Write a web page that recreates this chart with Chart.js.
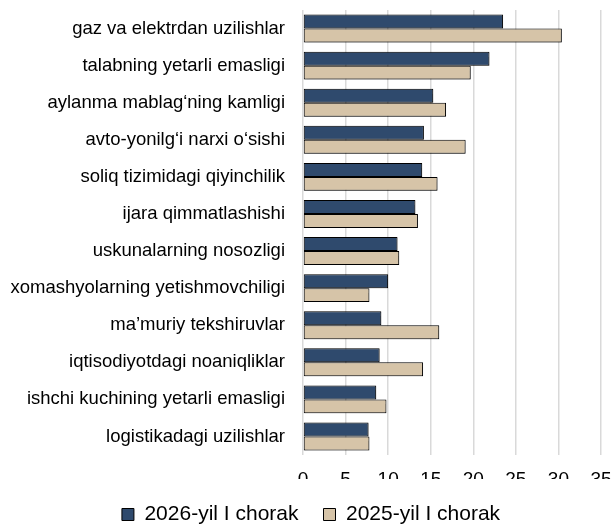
<!DOCTYPE html>
<html>
<head>
<meta charset="utf-8">
<script src="https://cdn.jsdelivr.net/npm/chart.js@4/dist/chart.umd.min.js"></script>
<style>
  html, body { margin: 0; padding: 0; background: #fff; }
  #wrap { width: 612px; height: 525px; }
</style>
</head>
<body>
<div id="wrap"><canvas id="barChart" width="612" height="525"></canvas></div>
<script>
const categories = [
  'gaz va elektrdan uzilishlar',
  'talabning yetarli emasligi',
  'aylanma mablag\u2018ning kamligi',
  'avto-yonilg\u2018i narxi o\u2018sishi',
  'soliq tizimidagi qiyinchilik',
  'ijara qimmatlashishi',
  'uskunalarning nosozligi',
  'xomashyolarning yetishmovchiligi',
  'ma\u2019muriy tekshiruvlar',
  'iqtisodiyotdagi noaniqliklar',
  'ishchi kuchining yetarli emasligi',
  'logistikadagi uzilishlar'
];
const q1_2026 = [23.5, 21.9, 15.3, 14.2, 14.0, 13.2, 11.1, 10.0, 9.2, 9.0, 8.6, 7.7];
const q1_2025 = [30.4, 19.7, 16.8, 19.1, 15.8, 13.5, 11.3, 7.8, 16.0, 14.1, 9.8, 7.8];
const seriesNames = ['2026-yil I chorak', '2025-yil I chorak'];
const xTicks = [0, 5, 10, 15, 20, 25, 30, 35];

const font = "'Liberation Sans', Arial, sans-serif";

// soft drop shadow under the bars, like the original
const barShadow = {
  id: 'barShadow',
  beforeDatasetsDraw(chart) {
    const c = chart.ctx;
    c.save();
    c.shadowColor = 'rgba(0,0,0,0.35)';
    c.shadowOffsetX = 1;
    c.shadowOffsetY = 1;
    c.shadowBlur = 1.5;
  },
  afterDatasetsDraw(chart) {
    chart.ctx.restore();
  }
};

const ctx = document.getElementById('barChart').getContext('2d');
new Chart(ctx, {
  type: 'bar',
  data: {
    labels: categories,
    datasets: [{
      label: seriesNames[0],
      data: q1_2026,
      backgroundColor: '#2f4a6d',
      borderColor: '#000',
      borderWidth: 1,
      borderSkipped: false
    }, {
      label: seriesNames[1],
      data: q1_2025,
      backgroundColor: '#d6c4a8',
      borderColor: '#000',
      borderWidth: 1,
      borderSkipped: false
    }]
  },
  options: {
    indexAxis: 'y',
    responsive: false,
    animation: false,
    barPercentage: 1.0,
    categoryPercentage: 0.755,
    layout: { padding: { left: 10, right: 0, top: 10, bottom: -10 } },
    scales: {
      x: {
        min: 0,
        max: 35,
        afterBuildTicks: axis => { axis.ticks = xTicks.map(v => ({ value: v })); },
        grid: { color: '#d9d9d9', lineWidth: 1.5, drawTicks: false },
        border: { display: false },
        ticks: { color: '#000', font: { family: font, size: 19 }, padding: 13 },
        afterFit: axis => { axis.height = 24; axis.paddingLeft = 0; axis.paddingRight = 11; }
      },
      y: {
        grid: { display: false, drawTicks: false },
        border: { display: false },
        ticks: { color: '#000', font: { family: font, size: 18.5 }, padding: 18 },
        afterFit: axis => { axis.width = 293; axis.paddingTop = 0; axis.paddingBottom = 0; }
      }
    },
    plugins: {
      legend: {
        position: 'bottom',
        labels: {
          color: '#000',
          font: { family: font, size: 21 },
          boxWidth: 12,
          boxHeight: 12,
          padding: 25
        }
      },
      tooltip: { enabled: false }
    }
  },
  plugins: [barShadow]
});
</script>
</body>
</html>
